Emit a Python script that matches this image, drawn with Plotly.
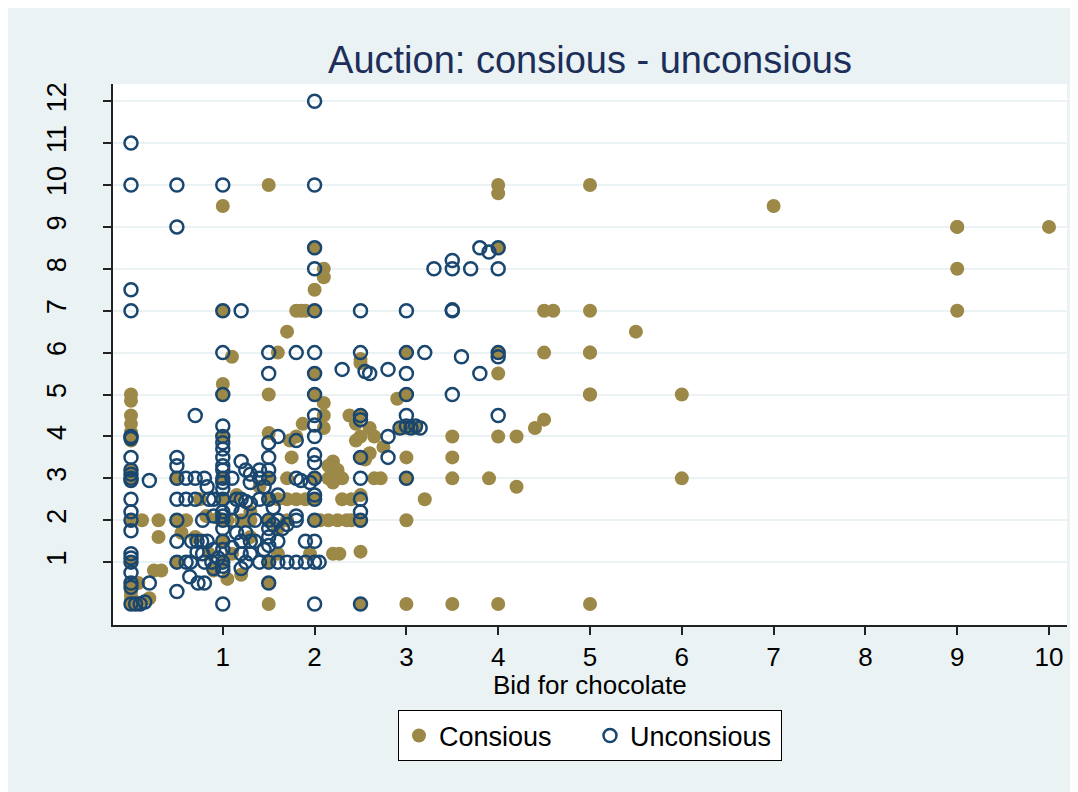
import plotly.graph_objects as go

# Consious (filled) bids / values
cons_bid = [
    0, 0, 0, 0, 0, 0, 0, 0, 0, 0, 0, 0, 0, 0, 0, 0, 0.05, 0.08, 0.12, 0.3, 0.3, 0.25, 0.33, 0.2, 0.1,
    0.5, 0.5, 0.55, 0.6, 0.75, 0.82, 0.5, 0.7, 0.9, 0.85,
    1, 1, 1.1, 1, 1, 1, 1, 1, 1, 1, 1, 1.05, 1.2, 0.95, 1.05, 1.1, 1.15, 1.2, 1.3, 1.3,
    1.5, 1.5, 1.5, 1.5, 1.5, 1.5, 1.5, 1.5, 1.5, 1.6, 1.7, 1.8, 1.85, 1.9, 1.87, 1.8, 1.73, 1.75,
    1.7, 1.6, 1.7, 1.8, 1.9, 1.7, 1.6, 1.4, 1.3, 1.6,
    2, 2.1, 2.1, 2, 2, 2, 2, 2.1, 2.1, 2.1, 2, 2, 2, 1.95, 2.2, 2.27, 2.2, 2.15, 2.25, 2.15, 2.2,
    2.3, 2.2, 2.3, 2.4, 2.06, 2.15, 2.25, 2.35, 2.4, 2.5, 2.5, 2.5, 2.38, 2.5, 2.45, 2.5, 2.45,
    2.5, 2.55, 2.6, 2.65, 2.6, 2.65, 2.72, 2.75, 2.5, 2.5, 2.5, 2.9, 2.95, 3.0, 3.1,
    3, 3, 3, 3, 3, 3, 3.2, 3.5, 3.5, 3.5, 3.5, 3.9, 4, 4, 4, 4, 4, 4, 4, 4.2, 4.2, 4.4, 4.5,
    4.5, 4.5, 4.6, 5, 5, 5, 5, 5, 5, 5, 5.5, 6, 6, 7, 9, 9, 9, 9, 10,
]
cons_value = [
    5.0, 4.85, 4.5, 4.3, 4.1, 4.0, 3.9, 3.2, 3.0, 2.0, 1.0, 0.5, 0.3, 0.2, 0.1, 0, 0.05, 0.5, 2.0, 2.0, 1.6, 0.8, 0.8, 0.14, 0,
    3.0, 2.0, 1.7, 2.0, 2.5, 2.1, 1.0, 1.6, 0.8, 1.2,
    9.5, 7, 5.9, 5.25, 5.0, 4.0, 3.0, 2.5, 2.0, 1.5, 1.0, 0.6, 0.7, 2.05, 2.0, 1.2, 2.6, 2.0, 2.2, 1.6,
    10, 5.0, 4.08, 3.0, 2.5, 2.0, 1.0, 0.5, 0, 6.0, 6.5, 7, 7, 7, 4.3, 4.0, 3.9, 3.5,
    3.0, 2.5, 2.5, 2.5, 2.5, 2.0, 1.8, 2.8, 2.0, 1.2,
    8.5, 8.0, 7.8, 7.5, 7.0, 5.5, 5.0, 4.8, 4.5, 4.2, 3.0, 2.5, 2.0, 1.2, 1.2, 1.2, 3.4, 3.3, 3.2, 3.0, 3.0,
    3.0, 2.9, 2.5, 2.5, 2.0, 2.0, 2.0, 2.0, 2.0, 2.6, 2.0, 1.25, 4.5, 4.5, 4.3, 4.0, 3.9,
    3.5, 3.45, 4.2, 4.0, 3.6, 3.0, 3.0, 3.75, 5.85, 5.75, 0, 4.9, 4.2, 4.2, 4.2,
    6, 5, 3.5, 3, 2, 0, 2.5, 4, 3.5, 3, 0, 3, 4, 5.5, 6, 8.5, 9.8, 10, 0, 4, 2.8, 4.2, 4.4,
    6, 7, 7, 10, 7, 6, 6, 5, 5, 0, 6.5, 5, 3, 9.5, 9, 9, 8, 7, 9,
]

# Unconsious (hollow) bids / values
uncons_bid = [
    0, 0, 0, 0, 0, 0, 0, 0, 0, 0, 0, 0, 0, 0, 0, 0, 0, 0, 0, 0, 0, 0, 0.05, 0.1, 0.15, 0.2, 0.2,
    0.5, 0.5, 0.5, 0.5, 0.5, 0.5, 0.5, 0.5, 0.5, 0.5, 0.6, 0.7, 0.6, 0.7, 0.85, 0.9, 0.7, 0.83,
    0.78, 0.9, 0.66, 0.72, 0.77, 0.83, 0.72, 0.78, 0.6, 0.65, 0.8, 0.88, 0.9, 0.64, 0.73, 0.8,
    0.95, 0.9, 0.8,
    1, 1, 1, 1, 1, 1, 1, 1, 1, 1, 1, 1, 1, 1, 1, 1, 1, 1, 1, 1, 1, 1, 1, 1, 1,
    1.2, 1.2, 1.25, 1.1, 1.15, 1.2, 1.25, 1.3, 1.2, 1.1, 1.1, 1.15, 1.2, 1.3, 1.35, 1.2, 1.25,
    1.4, 1.5, 1.3, 1.4, 1.4, 1.45, 1.5, 1.5, 1.5, 1.5, 1.5, 1.5, 1.5, 1.5, 1.5, 1.5, 1.5, 1.5,
    1.6, 1.55, 1.6, 1.6, 1.65, 1.6, 1.7, 1.8, 1.9, 1.7, 1.8, 1.8, 1.8, 1.8, 1.8, 1.85, 1.9,
    1.35, 1.3, 1.4, 1.45, 1.2, 1.3, 1.1, 1.25, 1.55, 1.6,
    2, 2, 2, 2, 2, 2, 2, 2, 2, 2, 2, 2, 2, 2, 1.95, 2, 2, 2, 2, 2, 2.05, 2,
    2.3, 2.5, 2.5, 2.5, 2.5, 2.5, 2.5, 2.5, 2.5, 2.5, 2.5, 2.55, 2.6, 2.8, 2.8, 2.8,
    3, 3, 3, 3, 3, 2.93, 3.0, 3.05, 3.1, 3.15, 3, 3.2, 3.3, 3.5, 3.5, 3.7, 3.8, 3.9, 4.0, 4.0,
    3.5, 3.5, 3.6, 3.8, 3.5, 4.0, 4.0, 4.0,
]
uncons_value = [
    11, 10, 7.5, 7, 4, 3.95, 3.5, 3.2, 3.1, 3.0, 2.95, 2.5, 2.2, 2.0, 1.75, 1.2, 1.1, 1.0, 0.75, 0.5, 0.4, 0, 0, 0, 0.05, 0.5, 2.95,
    10, 9, 3.5, 3.3, 3.0, 2.5, 2.0, 1.5, 1.0, 0.3, 3.0, 3.0, 2.5, 2.5, 2.5, 2.5, 4.5, 2.8,
    2.0, 2.1, 1.5, 1.5, 1.5, 1.5, 1.24, 1.2, 1.0, 1.0, 1.0, 1.0, 0.85, 0.65, 0.5, 0.5,
    1.1, 1.3, 3.0,
    10, 7, 6, 5, 4.25, 4.0, 3.85, 3.7, 3.5, 3.3, 3.2, 3.0, 2.9, 2.75, 2.5, 2.2, 2.1, 2.0, 1.8, 1.5, 1.3, 1.0, 0.9, 0.8, 0,
    7, 3.4, 3.2, 3.0, 2.5, 2.5, 2.45, 2.4, 2.2, 2.0, 2.3, 1.7, 1.5, 1.5, 1.5, 1.2, 1.0,
    1.0, 1.0, 2.9, 3.2, 3.0, 2.8, 3.0, 2.5, 2.0, 1.8, 1.6, 1.4, 0.5, 6.0, 5.5, 3.85, 3.5, 3.2,
    4.0, 1.9, 1.5, 2.0, 1.8, 1.0, 1.0, 1.0, 1.0, 1.9, 6.0, 3.9, 3.0, 2.1, 2.0, 2.95, 1.5,
    2.0, 1.2, 2.5, 1.3, 0.85, 3.1, 1.35, 1.7, 2.3, 2.6,
    12, 10, 8.5, 8.0, 7.0, 6.0, 5.5, 5.0, 4.5, 4.27, 4.0, 3.56, 3.37, 3.0, 2.9, 2.6, 2.5, 2.0, 1.5, 1.0, 1.0, 0,
    5.6, 7, 6, 4.5, 4.4, 3.5, 3.0, 2.5, 2.2, 2.0, 0, 5.55, 5.5, 5.6, 4.0, 3.5,
    7, 6, 5.5, 5, 4.5, 4.2, 4.25, 4.2, 4.25, 4.2, 3, 6.0, 8, 8, 8.2, 8, 8.5, 8.4, 8.5, 8.0,
    7, 7.02, 5.9, 5.5, 5.0, 6.0, 5.9, 4.5,
]

x_ticks = [1, 2, 3, 4, 5, 6, 7, 8, 9, 10]
y_ticks = [1, 2, 3, 4, 5, 6, 7, 8, 9, 10, 11, 12]

FONT = "Liberation Sans, Arial, sans-serif"
BG = "#EAF2F3"

fig = go.Figure()
fig.add_trace(go.Scatter(
    x=cons_bid, y=cons_value, mode="markers", name="Consious",
    marker=dict(symbol="circle", size=14, color="#9C8847", line=dict(width=0)),
))
fig.add_trace(go.Scatter(
    x=uncons_bid, y=uncons_value, mode="markers", name="Unconsious",
    marker=dict(symbol="circle-open", size=13, color="#1A476F", line=dict(width=2.5)),
))

# page is drawn with the browser's 8px body margin, so margins are shifted by 8
fig.update_layout(
    width=1078, height=792,
    paper_bgcolor=BG, plot_bgcolor="white",
    margin=dict(l=105, r=19, t=76, b=175),
    font=dict(family=FONT, color="black", size=27),
    title=dict(text="Auction: consious - unconsious", x=0.5, xref="paper",
               y=1 - 52 / 792, yanchor="middle",
               font=dict(size=38, color="#1C2E5A", family=FONT)),
    showlegend=True,
    legend=dict(orientation="h", x=0.5, xanchor="center", y=-0.205, yanchor="middle",
                bgcolor="white", bordercolor="black", borderwidth=1,
                font=dict(size=27), itemwidth=30, entrywidth=146),
)
# x-axis title as annotation so it can sit close under the tick labels
fig.add_annotation(text="Bid for chocolate", xref="paper", yref="paper", x=0.5, y=-0.11,
                   xanchor="center", yanchor="middle", showarrow=False, font=dict(size=26))
fig.update_xaxes(
    range=[-0.196, 10.196], tickvals=x_ticks, ticks="outside", ticklen=8, tickwidth=1.5,
    tickcolor="#222", showline=True, linecolor="#222", linewidth=1.5, showgrid=False,
    zeroline=False, tickfont=dict(size=26), ticklabelstandoff=0,
)
fig.update_yaxes(
    range=[-0.5, 12.41], tickvals=y_ticks, ticks="outside", ticklen=8, tickwidth=1.5,
    tickcolor="#222", showline=True, linecolor="#222", linewidth=1.5,
    showgrid=True, gridcolor=BG, gridwidth=2, zeroline=False,
    tickangle=-90, tickfont=dict(size=27), ticklabelstandoff=26,
)

fig.write_html("out.html")
